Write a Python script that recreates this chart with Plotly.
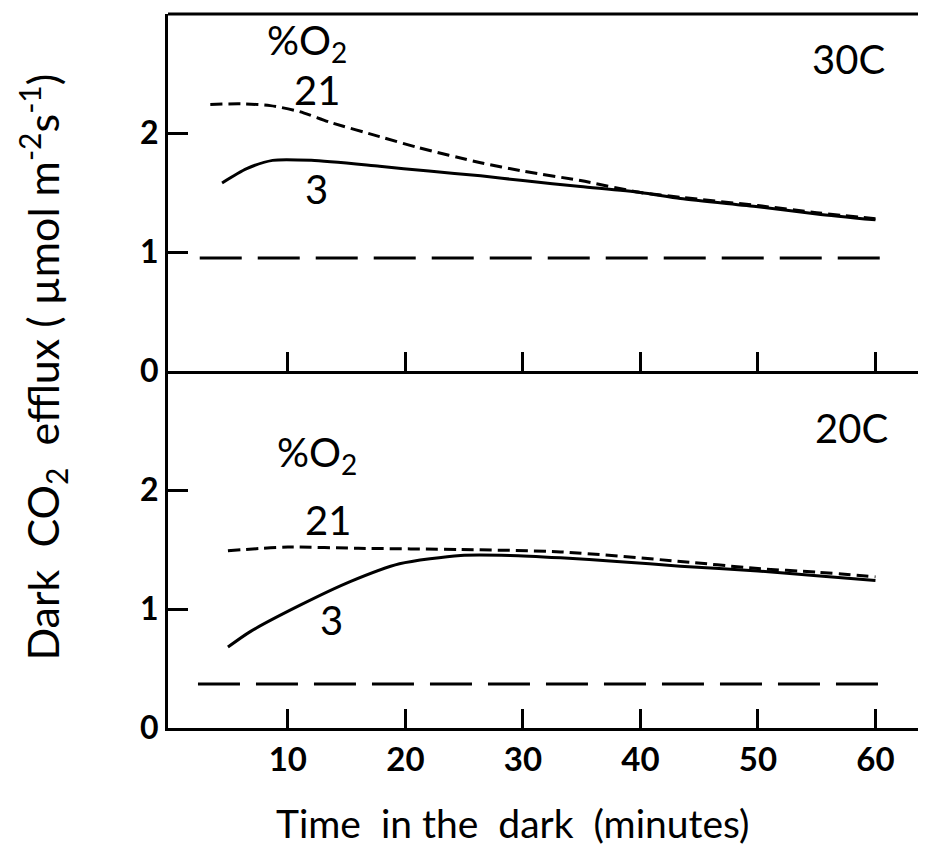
import plotly.graph_objects as go
from plotly.subplots import make_subplots

# ---- data ----
top_o21_x = [3.4, 6.0, 8.5, 11.0, 13.6, 17.8, 21.0, 26.4, 30.0, 34.9, 40.0, 43.4, 50.0, 55.0, 60.0]
top_o21_y = [2.24, 2.245, 2.23, 2.18, 2.09, 1.97, 1.88, 1.75, 1.68, 1.60, 1.50, 1.46, 1.39, 1.33, 1.28]
top_o3_x = [4.4, 6.5, 8.7, 12.0, 17.8, 22.0, 26.4, 30.0, 34.9, 40.0, 43.4, 50.0, 55.0, 60.0]
top_o3_y = [1.58, 1.70, 1.77, 1.77, 1.72, 1.68, 1.64, 1.60, 1.55, 1.50, 1.45, 1.38, 1.32, 1.27]
top_ref_x = [2.5, 60.8]
top_ref_y = [0.95, 0.95]

bot_o21_x = [4.9, 10.0, 16.0, 24.7, 33.2, 43.4, 50.0, 55.0, 60.0]
bot_o21_y = [1.49, 1.52, 1.51, 1.50, 1.48, 1.40, 1.34, 1.31, 1.27]
bot_o3_x = [4.9, 6.8, 11.0, 15.3, 19.5, 24.7, 28.9, 33.2, 38.0, 43.4, 50.0, 55.0, 60.0]
bot_o3_y = [0.68, 0.81, 1.03, 1.23, 1.38, 1.45, 1.45, 1.43, 1.40, 1.36, 1.32, 1.28, 1.24]
bot_ref_x = [2.35, 61.0]
bot_ref_y = [0.37, 0.37]

x_ticks = [10, 20, 30, 40, 50, 60]
y_ticks = [0, 1, 2]

FONT = "Lato"
BLACK = "black"

fig = make_subplots(rows=2, cols=1, shared_xaxes=False, vertical_spacing=0)

def add_panel(row, o21x, o21y, o3x, o3y, rx, ry):
    fig.add_trace(go.Scatter(x=o21x, y=o21y, mode="lines",
                             line=dict(color=BLACK, width=3, dash="12px,6px", shape="spline", smoothing=0.7),
                             showlegend=False), row=row, col=1)
    fig.add_trace(go.Scatter(x=o3x, y=o3y, mode="lines",
                             line=dict(color=BLACK, width=3, shape="spline", smoothing=0.7),
                             showlegend=False), row=row, col=1)
    fig.add_trace(go.Scatter(x=rx, y=ry, mode="lines",
                             line=dict(color=BLACK, width=3, dash="42px,16px"),
                             showlegend=False), row=row, col=1)

add_panel(1, top_o21_x, top_o21_y, top_o3_x, top_o3_y, top_ref_x, top_ref_y)
add_panel(2, bot_o21_x, bot_o21_y, bot_o3_x, bot_o3_y, bot_ref_x, bot_ref_y)

xaxis_common = dict(range=[-0.2, 64.3], tickmode="array", tickvals=x_ticks, ticks="inside",
                    ticklen=19, tickwidth=2.5, tickcolor=BLACK,
                    showline=True, linecolor=BLACK, linewidth=3, mirror=False,
                    showgrid=False, zeroline=False)
yaxis_common = dict(range=[0, 3], tickmode="array", tickvals=y_ticks, ticks="inside",
                    ticklen=20, tickwidth=2.5, tickcolor=BLACK,
                    showline=True, linecolor=BLACK, linewidth=3, mirror=False,
                    showgrid=False, zeroline=False,
                    tickfont=dict(family=FONT, size=32, color=BLACK, weight="bold"))

fig.update_xaxes(**xaxis_common, showticklabels=False, row=1, col=1)
fig.update_xaxes(**xaxis_common, showticklabels=True,
                 tickfont=dict(family=FONT, size=33, color=BLACK, weight="bold"),
                 row=2, col=1)
fig.update_yaxes(**yaxis_common, row=1, col=1)
fig.update_yaxes(**yaxis_common, row=2, col=1)

# page has an 8px body margin: the figure is sized so that it fills the window
fig.update_layout(
    width=918, height=840,
    margin=dict(l=160, r=0, t=6, b=120),
    paper_bgcolor="white", plot_bgcolor="white",
    font=dict(family=FONT, color=BLACK),
)
fig.layout.yaxis.domain = [0.5, 1.0]
fig.layout.yaxis2.domain = [0.0, 0.5]

# top frame line of the upper panel
fig.add_shape(type="line", xref="x domain", yref="y domain", x0=0, x1=1, y0=1, y1=1,
              line=dict(color=BLACK, width=3))

ann_font = dict(family=FONT, size=40, color=BLACK)
annotations = [
    dict(text="%O<sub>2</sub>", x=11.6, y=2.76, xref="x", yref="y"),
    dict(text="21", x=12.5, y=2.36, xref="x", yref="y"),
    dict(text="3", x=12.4, y=1.53, xref="x", yref="y"),
    dict(text="30C", x=57.7, y=2.62, xref="x", yref="y"),
    dict(text="%O<sub>2</sub>", x=12.5, y=2.30, xref="x2", yref="y2"),
    dict(text="21", x=13.4, y=1.75, xref="x2", yref="y2"),
    dict(text="3", x=13.7, y=0.91, xref="x2", yref="y2"),
    dict(text="20C", x=58.0, y=2.52, xref="x2", yref="y2"),
]
for a in annotations:
    fig.add_annotation(**a, showarrow=False, font=ann_font, xanchor="center", yanchor="middle")

fig.add_annotation(text="Dark  CO<sub>2</sub>  efflux ( µmol m<sup>-2</sup>s<sup>-1</sup>)",
                   x=-0.166, y=0.505, xref="paper", yref="paper", textangle=-90,
                   showarrow=False, font=dict(family=FONT, size=43, color=BLACK),
                   xanchor="center", yanchor="middle")
fig.add_annotation(text="Time  in the  dark  (minutes)",
                   x=0.455, y=-0.133, xref="paper", yref="paper",
                   showarrow=False, font=dict(family=FONT, size=39, color=BLACK),
                   xanchor="center", yanchor="middle")

fig.write_html("out.html")
